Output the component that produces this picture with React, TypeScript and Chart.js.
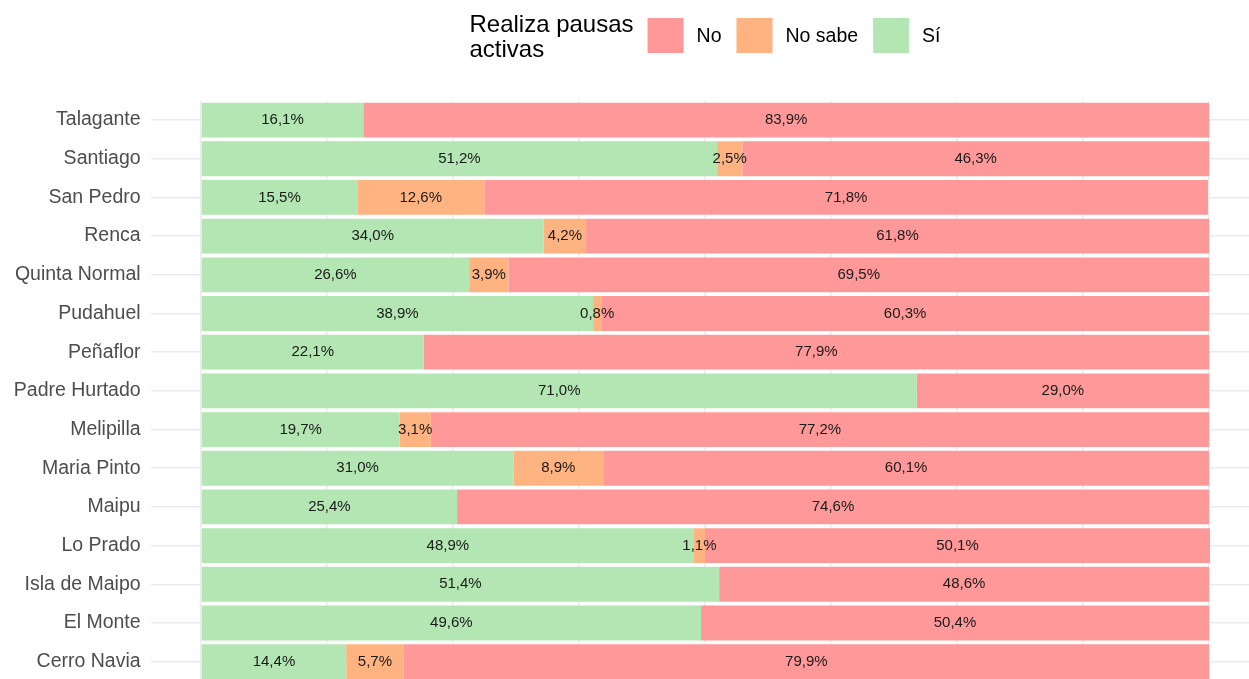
import React, { useEffect, useRef } from "react";
import { Chart, registerables } from "chart.js";

Chart.register(...registerables);

const FONT = '"Liberation Sans", Arial, Helvetica, sans-serif';

const categories = [
  "Talagante",
  "Santiago",
  "San Pedro",
  "Renca",
  "Quinta Normal",
  "Pudahuel",
  "Peñaflor",
  "Padre Hurtado",
  "Melipilla",
  "Maria Pinto",
  "Maipu",
  "Lo Prado",
  "Isla de Maipo",
  "El Monte",
  "Cerro Navia",
];
const siValues = [16.1, 51.2, 15.5, 34.0, 26.6, 38.9, 22.1, 71.0, 19.7, 31.0, 25.4, 48.9, 51.4, 49.6, 14.4];
const noSabeValues = [0, 2.5, 12.6, 4.2, 3.9, 0.8, 0, 0, 3.1, 8.9, 0, 1.1, 0, 0, 5.7];
const noValues = [83.9, 46.3, 71.8, 61.8, 69.5, 60.3, 77.9, 29.0, 77.2, 60.1, 74.6, 50.1, 48.6, 50.4, 79.9];
const xGridTicks = [0, 12.5, 25, 37.5, 50, 62.5, 75, 87.5, 100];
const legendTitle = ["Realiza pausas", "activas"];
const legendOrder = ["No", "No sabe", "Sí"];

const COLORS: Record<string, string> = {
  "Sí": "#B3E6B3",
  "No sabe": "#FFB380",
  No: "#FF9999",
};

const fmt = (v: number) => v.toFixed(1).replace(".", ",") + "%";

const labelPlugin = {
  id: "segLabels",
  afterDatasetsDraw(chart: any) {
    const ctx = chart.ctx;
    ctx.save();
    ctx.font = `15px ${FONT}`;
    ctx.fillStyle = "#1a1a1a";
    ctx.textAlign = "center";
    ctx.textBaseline = "middle";
    chart.data.datasets.forEach((ds: any, di: number) => {
      const meta = chart.getDatasetMeta(di);
      meta.data.forEach((el: any, i: number) => {
        const v = ds.data[i];
        if (!v || v <= 0) return;
        const cx = (el.x + el.base) / 2;
        ctx.fillText(fmt(v), cx, el.y);
      });
    });
    ctx.restore();
  },
};

const legendPlugin = {
  id: "customLegend",
  afterDraw(chart: any) {
    const ctx = chart.ctx;
    ctx.save();
    ctx.font = `24px ${FONT}`;
    const titleW = Math.max(...legendTitle.map((t) => ctx.measureText(t).width));
    ctx.font = `19.5px ${FONT}`;
    const items = legendOrder.map((label) => ({ label, w: ctx.measureText(label).width }));
    const box = 36;
    const boxH = 35;
    const gapTitle = 14;
    const gapBoxText = 13;
    const gapItem = 15;
    let total = titleW;
    items.forEach((it, i) => {
      total += gapTitle * (i === 0 ? 1 : 0) + box + gapBoxText + it.w + (i > 0 ? gapItem : 0);
    });
    const cx = chart.scales.x.getPixelForValue(50);
    let x = cx - total / 2;
    ctx.fillStyle = "#000000";
    ctx.textAlign = "left";
    ctx.textBaseline = "alphabetic";
    ctx.font = `24px ${FONT}`;
    ctx.fillText(legendTitle[0], x, 32);
    ctx.fillText(legendTitle[1], x, 57);
    x += titleW + gapTitle;
    ctx.font = `19.5px ${FONT}`;
    items.forEach((it, i) => {
      if (i > 0) x += gapItem;
      ctx.fillStyle = COLORS[it.label];
      ctx.fillRect(x, 18, box, boxH);
      x += box + gapBoxText;
      ctx.fillStyle = "#000000";
      ctx.textBaseline = "middle";
      ctx.fillText(it.label, x, 36.5);
      x += it.w;
    });
    ctx.restore();
  },
};

export default function App() {
  const ref = useRef<HTMLCanvasElement | null>(null);

  useEffect(() => {
    if (!ref.current) return;
    const chart = new Chart(ref.current, {
      type: "bar",
      data: {
        labels: categories,
        datasets: [
          { label: "Sí", data: siValues, backgroundColor: COLORS["Sí"], borderWidth: 0 },
          { label: "No sabe", data: noSabeValues, backgroundColor: COLORS["No sabe"], borderWidth: 0 },
          { label: "No", data: noValues, backgroundColor: COLORS["No"], borderWidth: 0 },
        ],
      },
      options: {
        indexAxis: "y",
        responsive: false,
        animation: false,
        devicePixelRatio: 1,
        layout: { padding: { top: 100.7, left: 0, right: 10.6, bottom: 0 } },
        datasets: {
          bar: { barPercentage: 0.9, categoryPercentage: 1.0 },
        },
        plugins: {
          legend: { display: false },
          tooltip: { enabled: false },
          title: { display: false },
        },
        scales: {
          x: {
            type: "linear",
            stacked: true,
            min: -5,
            max: 105,
            display: true,
            afterBuildTicks(scale: any) {
              scale.ticks = xGridTicks.map((v) => ({ value: v }));
            },
            afterFit(scale: any) {
              scale.height = 0;
            },
            ticks: { display: false },
            grid: { color: "#ebebeb", lineWidth: 1.5, drawTicks: false },
            border: { display: false },
          },
          y: {
            type: "category",
            stacked: true,
            offset: true,
            afterFit(scale: any) {
              scale.width = 150.6;
              scale.paddingBottom = 0;
              scale.paddingTop = 0;
            },
            ticks: {
              autoSkip: false,
              padding: 10,
              color: "#4d4d4d",
              font: { family: FONT, size: 19.5 },
            },
            grid: { color: "#ebebeb", lineWidth: 1.5, drawTicks: false, offset: false },
            border: { display: false },
          },
        },
      },
      plugins: [labelPlugin, legendPlugin],
    });
    return () => chart.destroy();
  }, []);

  return (
    <div
      style={{
        position: "fixed",
        left: 0,
        top: 0,
        width: 1249,
        height: 679,
        overflow: "hidden",
        background: "#ffffff",
      }}
    >
      <canvas ref={ref} width={1270} height={681} style={{ display: "block" }} />
    </div>
  );
}
